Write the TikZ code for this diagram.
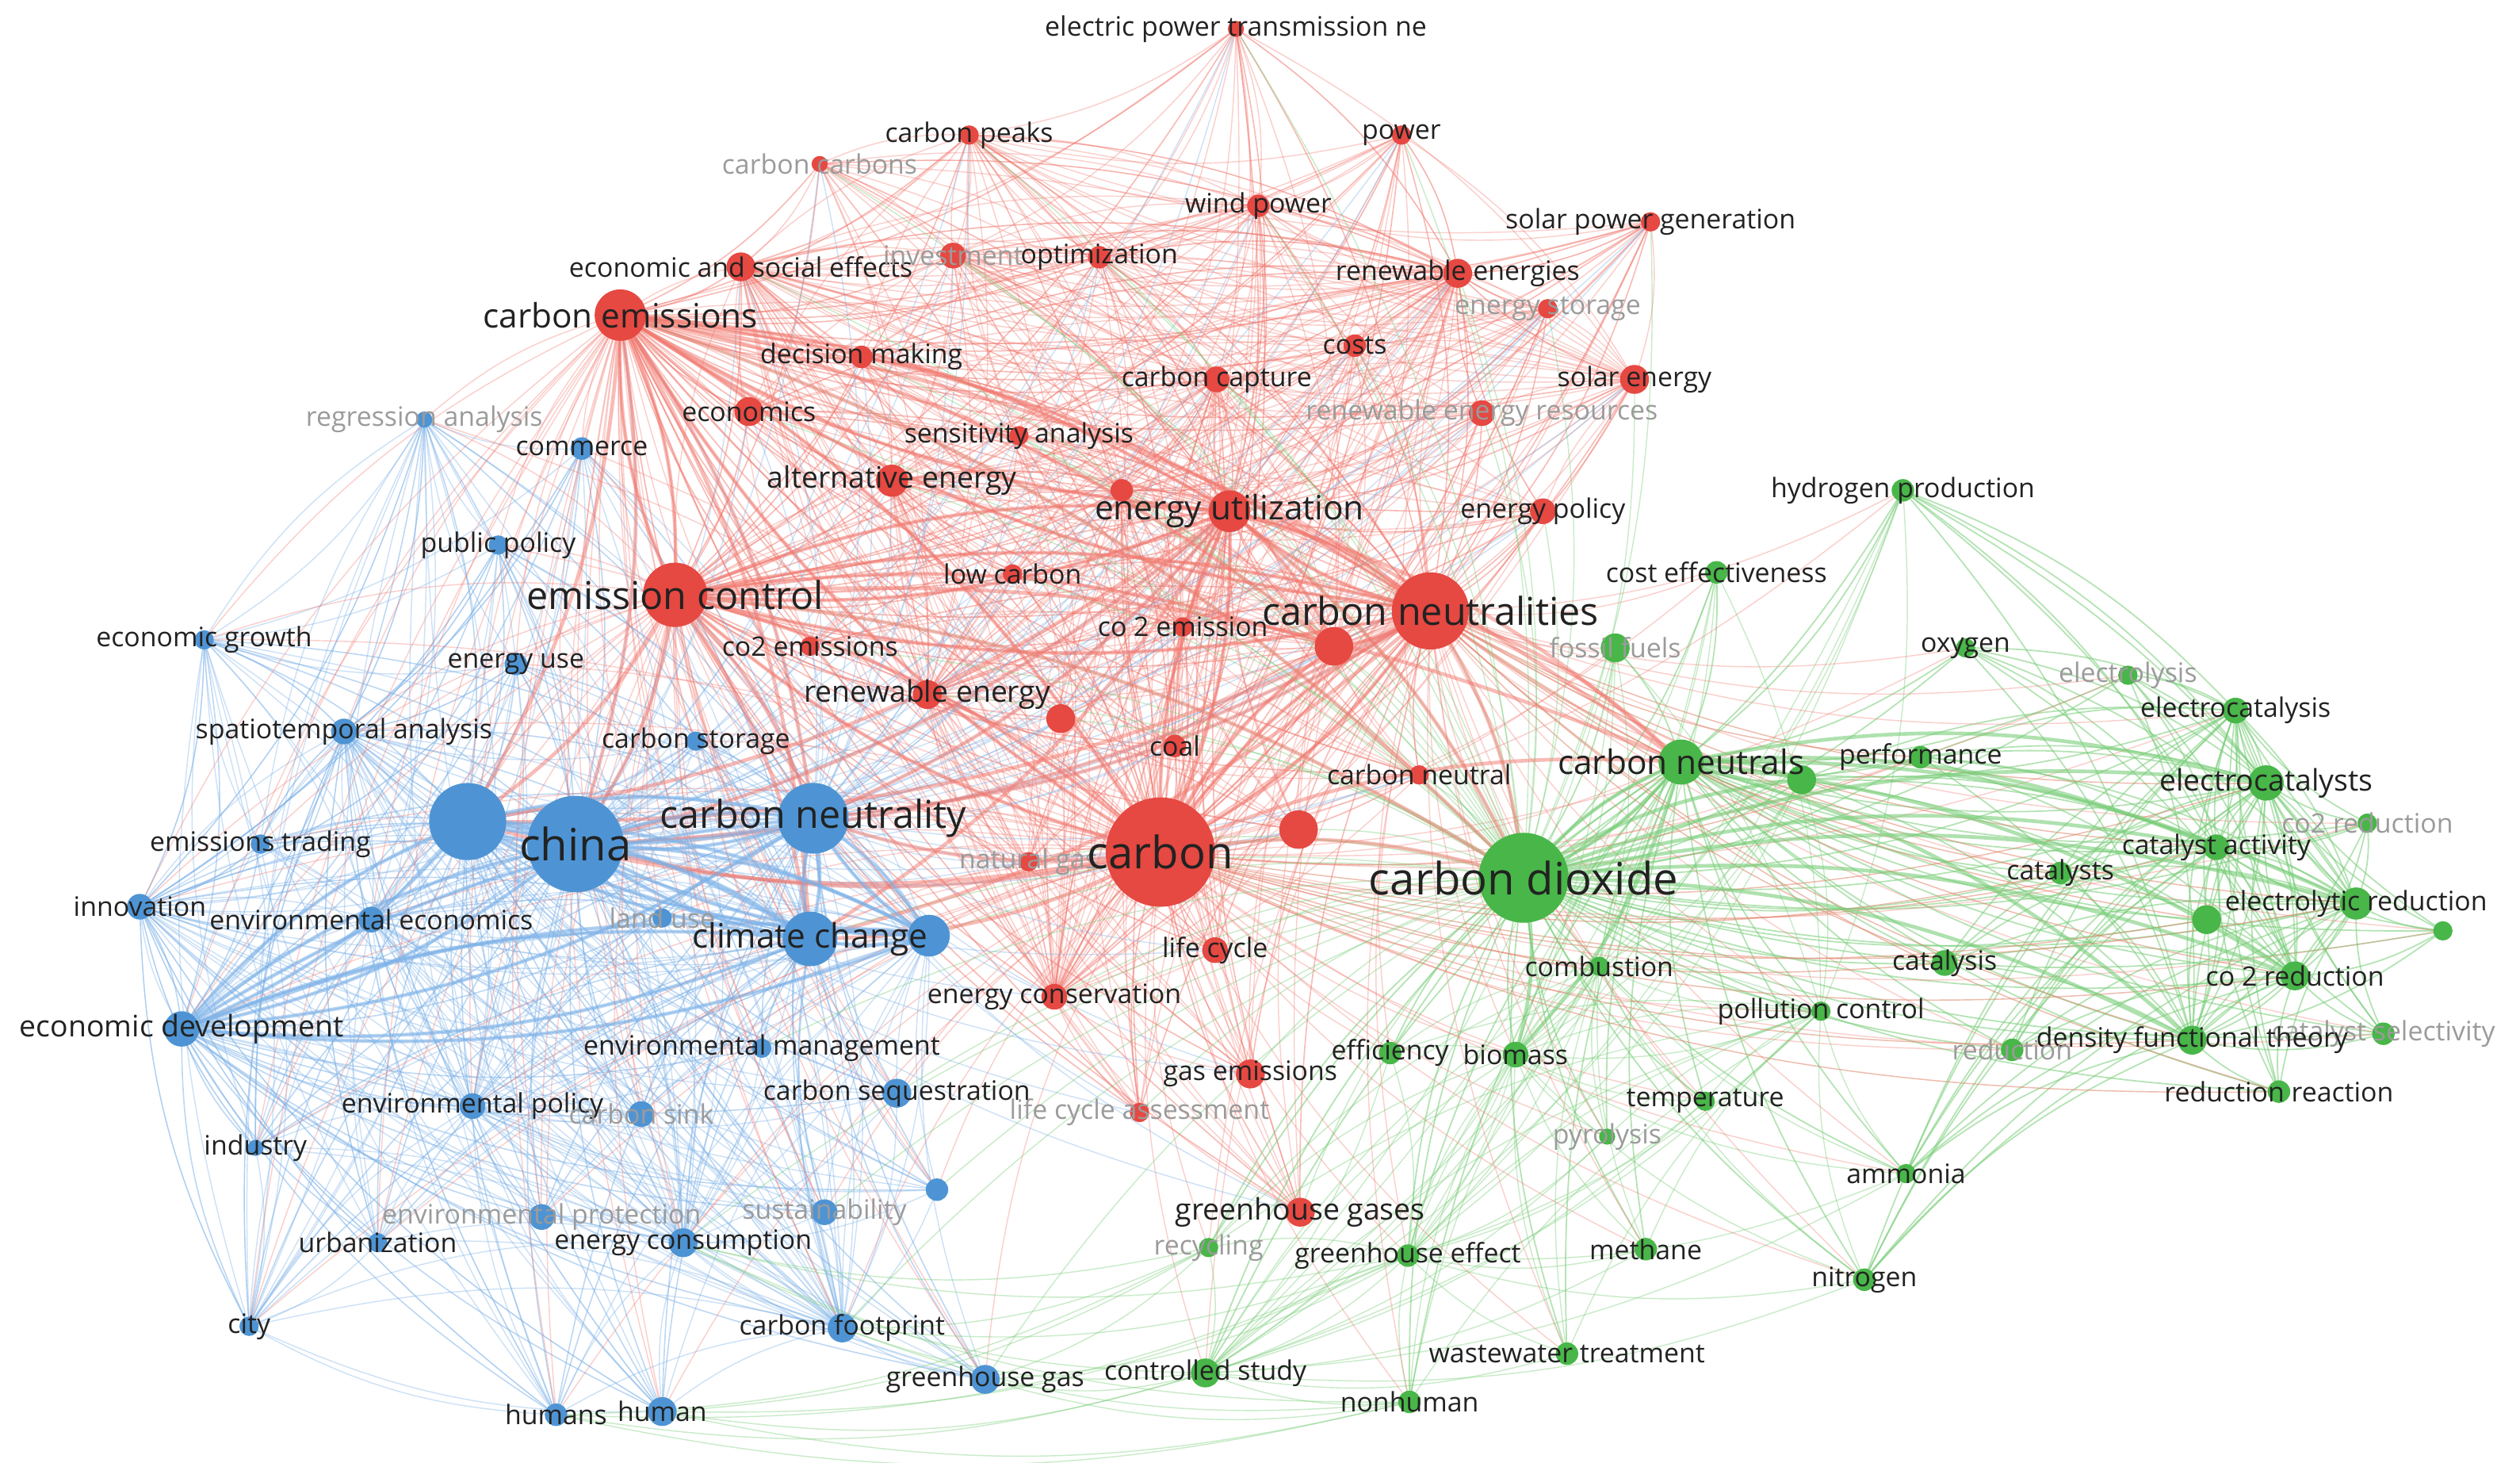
\documentclass[tikz,border=0pt]{standalone}
\usepackage{fontspec}
\setmainfont{Open Sans}
\definecolor{nr}{RGB}{230,72,66}
\definecolor{nb}{RGB}{78,148,212}
\definecolor{ng}{RGB}{72,182,72}
\definecolor{er}{RGB}{242,120,110}
\definecolor{eb}{RGB}{125,178,232}
\definecolor{eg}{RGB}{120,205,120}
\definecolor{eo}{RGB}{200,170,120}
\definecolor{lab}{RGB}{34,34,34}
\definecolor{fnt}{RGB}{155,155,155}
\pgfdeclarelayer{bg}
\pgfdeclarelayer{edges}
\pgfdeclarelayer{labels}
\pgfsetlayers{bg,edges,main,labels}
\tikzset{
  kr/.style={circle,fill=nr,inner sep=0pt},
  kb/.style={circle,fill=nb,inner sep=0pt},
  kg/.style={circle,fill=ng,inner sep=0pt},
  lbase/.style={inner sep=0pt,text=lab},
  ls/.style={lbase,font=\fontsize{9.5}{10}\selectfont},
  lf/.style={lbase,text=fnt,font=\fontsize{9.5}{10}\selectfont},
  lm/.style={lbase,font=\fontsize{10.5}{11}\selectfont},
  lml/.style={lbase,font=\fontsize{11.9}{12}\selectfont},
  llg/.style={lbase,font=\fontsize{13.6}{14}\selectfont},
  lxl/.style={lbase,font=\fontsize{15.8}{16}\selectfont},
  re/.style={draw=er,line width=0.45pt,draw opacity=0.5},
  ref/.style={draw=er,line width=0.4pt,draw opacity=0.35},
  be/.style={draw=eb,line width=0.45pt,draw opacity=0.5},
  bef/.style={draw=eb,line width=0.4pt,draw opacity=0.38},
  ge/.style={draw=eg,line width=0.5pt,draw opacity=0.55},
  gef/.style={draw=eg,line width=0.4pt,draw opacity=0.4},
  oef/.style={draw=eo,line width=0.4pt,draw opacity=0.35},
  reT/.style={draw=er,line width=1.3pt,draw opacity=0.5},
  beT/.style={draw=eb,line width=1.3pt,draw opacity=0.55},
  geT/.style={draw=eg,line width=1.3pt,draw opacity=0.6},
}
\newcommand\kw[7]{%
  \node[#5,minimum size=#4*0.04cm] (#1) at (#2,#3) {};
  \begin{pgfonlayer}{labels}\node[#6] (#1-t) at (#2,#3) {#7};\end{pgfonlayer}}
\newcommand\kwu[5]{\node[#5,minimum size=#4*0.04cm] (#1) at (#2,#3) {};}
\newcommand\edgeset[3]{%
  \foreach \a in #2{\foreach \b in #3{\ifx\a\b\else
    \draw[#1] (\a.center) to[bend left=13] (\b.center);\fi}}}
\def\allred{ept,power,cpeaks,ccarbons,esoc,invest,optim,wind,spg,renes,estor,costs,cemis,decis,ccapt,solar,econ,rer,sens,alten,rx1,eutil,epol,lowc,emctl,cneus,co2em,rx2,co2ems,reneg,rx3,coal,cneul,carbon,rx4,natgas,lcyc,econs,gasem,lca,ghgs}
\def\Rone{carbon,cneus,emctl,cemis,eutil}
\def\Rtwo{alten,rx2,co2em,renes,reneg,econs,rx1,ccapt,esoc}
\def\Rtop{ept,power,cpeaks,ccarbons,esoc,invest,optim,wind,spg,renes,estor,costs,solar,rer,epol,decis,econ,sens}
\def\Rtoph{cpeaks,optim,renes,wind,solar,invest}
\def\allblue{regr,comm,pubp,egrow,euse,spat,cstor,bx1,china,cneut,etrad,innov,enveco,landu,clim,bx2,ecodev,envman,envpol,csink,cseq,indus,bx3,envpro,sust,urban,econsum,city,cfoot,ghg,humans,human}
\def\Bone{china,bx1,cneut,clim,ecodev}
\def\Btwo{envpol,econsum,bx2,spat,enveco,cfoot,innov}
\def\Bleft{regr,comm,pubp,egrow,euse,etrad,indus,city,urban,humans,human}
\def\Blefth{egrow,innov,city,spat,regr}
\def\allgreen{h2p,costeff,fossil,oxy,elysis,ecatsis,cneuts,gx1,perf,ecats,co2red,catact,cdiox,cats,elred,gx2,gx3,catsis,comb,co2r,pollc,dft,redn,catsel,effic,biom,temp,redr,pyro,ammo,recyc,ghe,meth,nitro,wwt,cstudy,nonh}
\def\Gone{cdiox,cneuts}
\def\GR{oxy,elysis,ecatsis,gx1,perf,ecats,co2red,catact,cats,elred,gx2,gx3,catsis,co2r,dft,redn,catsel,redr,ammo,nitro,h2p}
\def\GRH{ecats,elred,co2r,catact,dft,ecatsis}
\def\GRc{ecats,elred,co2r,catact,dft,perf,cats,catsis,gx2,redr}
\def\GL{h2p,costeff,fossil,comb,pollc,effic,biom,temp,pyro,recyc,ghe,meth,wwt,cstudy,nonh,gx1,ammo,nitro}
\def\GLH{biom,comb,cstudy,ghe,pollc}
\def\Rx{carbon,emctl,cemis}
\def\Rg{carbon,cneus}
\def\Bx{china,cneut}
\def\Gx{cdiox}
\def\Bbot{clim,bx2,cseq,bx3,sust,cfoot,ghg,econsum,envman}
\def\Gbot{cstudy,recyc,ghe,nonh}
\def\Bgb{ghg,cfoot,human,humans,econsum}
\def\RHa{carbon,cneus,emctl,cemis,eutil}
\def\RHall{carbon,cneus,emctl,cemis,eutil,rx2,cneut,china,bx1,clim,cdiox,cneuts}
\def\BHa{china,bx1,cneut,clim,ecodev,bx2}
\def\GHa{cdiox,cneuts}
\def\GHb{cdiox,cneuts,ecats,elred,co2r,catact,dft,biom,gx1}
\begin{document}
\begin{tikzpicture}[x=0.02cm,y=-0.02cm]
\useasboundingbox (0,0) rectangle (1568,910);
\begin{pgfonlayer}{bg}\fill[white] (0,0) rectangle (1568,910);\end{pgfonlayer}
% red cluster
\kw{ept}{769}{18}{5}{kr}{ls}{electric power transmission ne}
\kw{power}{872}{84}{6}{kr}{ls}{power}
\kw{cpeaks}{603}{84}{6}{kr}{ls}{carbon peaks}
\kw{ccarbons}{510}{102}{5}{kr}{lf}{carbon carbons}
\kw{esoc}{461}{166}{9}{kr}{ls}{economic and social effects}
\kw{invest}{593}{159}{8}{kr}{lf}{investment}
\kw{optim}{684}{160}{7}{kr}{ls}{optimization}
\kw{wind}{783}{128}{7}{kr}{ls}{wind power}
\kw{spg}{1027}{138}{6}{kr}{ls}{solar power generation}
\kw{renes}{907}{170}{9}{kr}{ls}{renewable energies}
\kw{estor}{963}{192}{6}{kr}{lf}{energy storage}
\kw{costs}{843}{215}{7}{kr}{ls}{costs}
\kw{cemis}{386}{196}{16}{kr}{lml}{carbon emissions}
\kw{decis}{536}{222}{7}{kr}{ls}{decision making}
\kw{ccapt}{757}{236}{8}{kr}{ls}{carbon capture}
\kw{solar}{1017}{236}{9}{kr}{ls}{solar energy}
\kw{econ}{466}{256}{9}{kr}{ls}{economics}
\kw{rer}{922}{257}{8}{kr}{lf}{renewable energy resources}
\kw{sens}{634}{271}{6}{kr}{ls}{sensitivity analysis}
\kw{alten}{555}{299}{10}{kr}{lm}{alternative energy}
\kwu{rx1}{698}{305}{7}{kr}
\kw{eutil}{765}{318}{13}{kr}{lml}{energy utilization}
\kw{epol}{960}{318}{8}{kr}{ls}{energy policy}
\kw{lowc}{630}{357}{6}{kr}{ls}{low carbon}
\kw{emctl}{420}{370}{20}{kr}{llg}{emission control}
\kw{cneus}{890}{380}{24}{kr}{llg}{carbon neutralities}
\kw{co2em}{736}{390}{6}{kr}{ls}{co 2 emission}
\kwu{rx2}{830}{402}{12}{kr}
\kw{co2ems}{504}{402}{6}{kr}{ls}{co2 emissions}
\kw{reneg}{577}{432}{9}{kr}{lm}{renewable energy}
\kwu{rx3}{660}{447}{9}{kr}
\kw{coal}{731}{464}{7}{kr}{ls}{coal}
\kw{cneul}{883}{482}{6}{kr}{ls}{carbon neutral}
\kwu{rx4}{808}{516}{12}{kr}
\kw{natgas}{640}{536}{6}{kr}{lf}{natural gas}
\kw{carbon}{722}{530}{34}{kr}{lxl}{carbon}
\kw{lcyc}{756}{591}{8}{kr}{ls}{life cycle}
\kw{econs}{656}{620}{8}{kr}{ls}{energy conservation}
\kw{gasem}{778}{668}{9}{kr}{ls}{gas emissions}
\kw{lca}{709}{692}{6}{kr}{lf}{life cycle assessment}
\kw{ghgs}{809}{754}{9}{kr}{lm}{greenhouse gases}
% blue cluster
\kw{regr}{264}{261}{5}{kb}{lf}{regression analysis}
\kw{comm}{362}{279}{7}{kb}{ls}{commerce}
\kw{pubp}{310}{339}{6}{kb}{ls}{public policy}
\kw{egrow}{127}{398}{6}{kb}{ls}{economic growth}
\kw{euse}{321}{413}{7}{kb}{ls}{energy use}
\kw{spat}{214}{455}{8}{kb}{ls}{spatiotemporal analysis}
\kw{cstor}{433}{461}{6}{kb}{ls}{carbon storage}
\kwu{bx1}{291}{511}{24}{kb}
\kw{china}{358}{525}{30}{kb}{lxl}{china}
\kw{cneut}{506}{509}{22}{kb}{llg}{carbon neutrality}
\kw{etrad}{162}{525}{6}{kb}{ls}{emissions trading}
\kw{innov}{87}{564}{8}{kb}{ls}{innovation}
\kw{enveco}{231}{572}{8}{kb}{ls}{environmental economics}
\kw{landu}{412}{571}{6}{kb}{lf}{land use}
\kw{clim}{504}{584}{17}{kb}{lml}{climate change}
\kwu{bx2}{578}{582}{13}{kb}
\kw{ecodev}{113}{640}{11}{kb}{lm}{economic development}
\kw{envman}{474}{652}{6}{kb}{ls}{environmental management}
\kw{envpol}{294}{688}{8}{kb}{ls}{environmental policy}
\kw{csink}{399}{693}{8}{kb}{lf}{carbon sink}
\kw{cseq}{558}{680}{9}{kb}{ls}{carbon sequestration}
\kw{indus}{159}{714}{5}{kb}{ls}{industry}
\kwu{bx3}{583}{740}{7}{kb}
\kw{envpro}{337}{757}{8}{kb}{lf}{environmental protection}
\kw{sust}{513}{754}{8}{kb}{lf}{sustainability}
\kw{urban}{235}{773}{6}{kb}{ls}{urbanization}
\kw{econsum}{425}{773}{9}{kb}{ls}{energy consumption}
\kw{city}{155}{825}{6}{kb}{ls}{city}
\kw{cfoot}{524}{826}{9}{kb}{ls}{carbon footprint}
\kw{ghg}{613}{858}{9}{kb}{ls}{greenhouse gas}
\kw{humans}{346}{880}{7}{kb}{ls}{humans}
\kw{human}{412}{878}{9}{kb}{ls}{human}
% green cluster
\kw{h2p}{1184}{305}{7}{kg}{ls}{hydrogen production}
\kw{costeff}{1068}{356}{7}{kg}{ls}{cost effectiveness}
\kw{fossil}{1005}{403}{9}{kg}{lf}{fossil fuels}
\kw{oxy}{1223}{403}{6}{kg}{ls}{oxygen}
\kw{elysis}{1324}{420}{6}{kg}{lf}{electrolysis}
\kw{ecatsis}{1391}{442}{8}{kg}{ls}{electrocatalysis}
\kw{cneuts}{1046}{474}{14}{kg}{lml}{carbon neutrals}
\kwu{gx1}{1121}{485}{9}{kg}
\kw{perf}{1195}{471}{7}{kg}{ls}{performance}
\kw{ecats}{1410}{487}{11}{kg}{lm}{electrocatalysts}
\kw{co2red}{1473}{512}{6}{kg}{lf}{co2 reduction}
\kw{catact}{1379}{527}{8}{kg}{ls}{catalyst activity}
\kw{cdiox}{948}{546}{28}{kg}{lxl}{carbon dioxide}
\kw{cats}{1282}{543}{7}{kg}{ls}{catalysts}
\kw{elred}{1466}{562}{10}{kg}{ls}{electrolytic reduction}
\kwu{gx2}{1373}{572}{9}{kg}
\kwu{gx3}{1520}{579}{6}{kg}
\kw{catsis}{1210}{599}{8}{kg}{ls}{catalysis}
\kw{comb}{995}{601}{6}{kg}{ls}{combustion}
\kw{co2r}{1428}{607}{9}{kg}{ls}{co 2 reduction}
\kw{pollc}{1133}{629}{6}{kg}{ls}{pollution control}
\kw{catsel}{1483}{643}{7}{kg}{lf}{catalyst selectivity}
\kw{dft}{1364}{647}{9}{kg}{ls}{density functional theory}
\kw{redn}{1252}{653}{7}{kg}{lf}{reduction}
\kw{effic}{865}{655}{7}{kg}{ls}{efficiency}
\kw{biom}{943}{656}{8}{kg}{ls}{biomass}
\kw{temp}{1061}{685}{6}{kg}{ls}{temperature}
\kw{redr}{1418}{679}{7}{kg}{ls}{reduction reaction}
\kw{pyro}{1000}{707}{5}{kg}{lf}{pyrolysis}
\kw{ammo}{1186}{730}{6}{kg}{ls}{ammonia}
\kw{recyc}{752}{776}{6}{kg}{lf}{recycling}
\kw{ghe}{876}{781}{7}{kg}{ls}{greenhouse effect}
\kw{meth}{1024}{777}{7}{kg}{ls}{methane}
\kw{nitro}{1160}{796}{7}{kg}{ls}{nitrogen}
\kw{wwt}{975}{842}{7}{kg}{ls}{wastewater treatment}
\kw{cstudy}{750}{854}{9}{kg}{ls}{controlled study}
\kw{nonh}{877}{872}{7}{kg}{ls}{nonhuman}
% connectors
\begin{pgfonlayer}{edges}
\edgeset{ref}{\allred}{\Rtwo}
\edgeset{ref}{\Rtop}{\Rtoph}
\edgeset{re}{\allred}{\Rone}
\edgeset{bef}{\allblue}{\Btwo}
\edgeset{bef}{\Bleft}{\Blefth}
\edgeset{be}{\allblue}{\Bone}
\edgeset{ge}{\allgreen}{\Gone}
\edgeset{ge}{\GR}{\GRH}
\edgeset{gef}{\GL}{\GLH}
\edgeset{oef}{\GRc}{\Rg}
\edgeset{ref}{\allblue}{\Rx}
\edgeset{ref}{\allgreen}{\Rg}
\edgeset{bef}{\allred}{\Bx}
\edgeset{gef}{\allred}{\Gx}
\edgeset{gef}{\Bbot}{\Gx}
\edgeset{gef}{\Gbot}{\Bgb}
\edgeset{reT}{\RHa}{\RHall}
\edgeset{beT}{\BHa}{\BHa}
\edgeset{geT}{\GHa}{\GHb}
\end{pgfonlayer}
\end{tikzpicture}
\end{document}
